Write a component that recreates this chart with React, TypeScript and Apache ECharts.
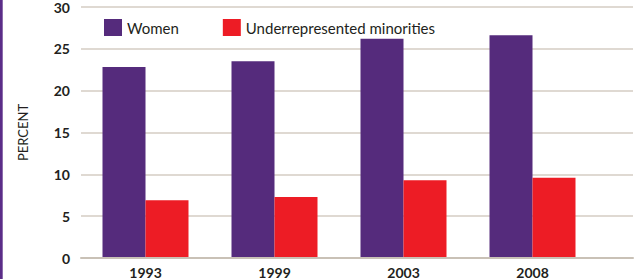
import React, { useEffect, useRef } from "react";
import * as echarts from "echarts";

const categories = ["1993", "1999", "2003", "2008"];
const women = [22.8, 23.5, 26.2, 26.6];
const minorities = [6.8, 7.2, 9.2, 9.5];
const seriesNames = ["Women", "Underrepresented minorities"];

export default function App() {
  const ref = useRef<HTMLDivElement>(null);
  useEffect(() => {
    const chart = echarts.init(ref.current!, null, { renderer: "svg" });
    const font = "Lato, 'DejaVu Sans', sans-serif";
    chart.setOption({
      animation: false,
      backgroundColor: "#ffffff",
      graphic: [
        { type: "rect", shape: { x: 0, y: 0, width: 2.7, height: 279 }, style: { fill: "#5b2d88" } },
      ],
      legend: {
        data: seriesNames,
        left: 99,
        top: 14,
        itemWidth: 18,
        itemHeight: 17,
        itemGap: 44,
        icon: "rect",
        textStyle: { fontSize: 15, color: "#231f20", fontFamily: font },
      },
      grid: [
        { left: 81, right: 7, top: 7, bottom: 21 },
        { left: 81, width: 516, top: 7, bottom: 21 },
      ],
      xAxis: [
        {
          type: "value",
          gridIndex: 0,
          min: 0,
          max: 1,
          axisLabel: { show: false },
          axisTick: { show: false },
          splitLine: { show: false },
          axisLine: { show: true, lineStyle: { color: "#c9c1b6", width: 2 } },
        },
        {
          type: "category",
          gridIndex: 1,
          data: categories,
          axisLine: { show: false },
          axisTick: { show: false },
          axisLabel: { fontSize: 14, fontWeight: "bold", color: "#231f20", fontFamily: font, margin: 8 },
        },
      ],
      yAxis: [
        {
          type: "value",
          gridIndex: 0,
          min: 0,
          max: 30,
          interval: 5,
          name: "PERCENT",
          nameLocation: "middle",
          nameGap: 52,
          nameRotate: 90,
          nameTextStyle: { fontSize: 13, color: "#231f20", fontFamily: font },
          axisLine: { show: false },
          axisTick: { show: false },
          axisLabel: { fontSize: 14, fontWeight: "bold", color: "#231f20", fontFamily: font, margin: 11 },
          splitLine: { lineStyle: { color: "#d4cdc3", width: 1.5 } },
        },
        {
          type: "value",
          gridIndex: 1,
          min: 0,
          max: 30,
          interval: 5,
          show: false,
          splitLine: { show: false },
        },
      ],
      series: [
        {
          name: seriesNames[0],
          type: "bar",
          xAxisIndex: 1,
          yAxisIndex: 1,
          data: women,
          barWidth: 43,
          barGap: "0%",
          itemStyle: { color: "#552b7c" },
        },
        {
          name: seriesNames[1],
          type: "bar",
          xAxisIndex: 1,
          yAxisIndex: 1,
          data: minorities,
          barWidth: 43,
          barGap: "0%",
          itemStyle: { color: "#ed1c25" },
        },
      ],
    });
    return () => chart.dispose();
  }, []);
  return <div ref={ref} style={{ position: "fixed", left: 0, top: 0, width: 640, height: 279 }} />;
}
